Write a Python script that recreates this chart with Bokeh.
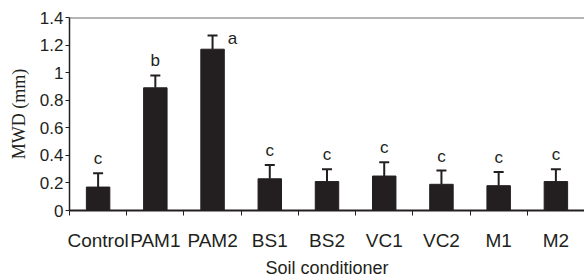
from bokeh.plotting import figure
from bokeh.models import (ColumnDataSource, FixedTicker, Range1d, Whisker, TeeHead,
                          Span, CustomJSTickFormatter)
from bokeh.core.properties import value
from bokeh.embed import file_html
from bokeh.resources import INLINE

categories = ["Control", "PAM1", "PAM2", "BS1", "BS2", "VC1", "VC2", "M1", "M2"]
mwd = [0.17, 0.89, 1.17, 0.23, 0.21, 0.25, 0.19, 0.18, 0.21]
err = [0.10, 0.09, 0.10, 0.10, 0.09, 0.10, 0.10, 0.10, 0.09]
letters = ["c", "b", "a", "c", "c", "c", "c", "c", "c"]
y_ticks = [0, 0.2, 0.4, 0.6, 0.8, 1.0, 1.2, 1.4]

INK = "#231f20"
xc = [i + 0.5 for i in range(len(categories))]
upper = [m + e for m, e in zip(mwd, err)]
src = ColumnDataSource(dict(x=xc, y=mwd, up=upper, lab=letters))

p = figure(width=584, height=280, output_backend="svg", toolbar_location=None,
           x_range=Range1d(0, len(categories)), y_range=Range1d(0, 1.4),
           min_border_left=69, min_border_right=0, min_border_top=17, min_border_bottom=70)
p.outline_line_color = None
p.xgrid.visible = False
p.ygrid.visible = False
p.background_fill_color = "white"
p.border_fill_color = "white"

p.vbar(x="x", top="y", width=0.41, source=src, fill_color=INK, line_color=INK)

w = Whisker(base="x", lower="y", upper="up", source=src, dimension="height",
            line_color=INK, line_width=2, lower_head=None,
            upper_head=TeeHead(size=10, line_color=INK, line_width=2))
p.add_layout(w)

top = Span(location=p.y_range.end, dimension="width", line_color="#6d6d6d", line_width=2)
p.add_layout(top)

# significance letters
above_idx = [i for i in range(len(categories)) if i != 2]
src_above = ColumnDataSource(dict(x=[xc[i] for i in above_idx], y=[upper[i] for i in above_idx],
                                  lab=[letters[i] for i in above_idx]))
p.text(x="x", y="y", text="lab", source=src_above, text_align="center", text_baseline="bottom",
       y_offset=-5, text_font=value("Liberation Sans"), text_font_size="17px", text_color=INK)
src_side = ColumnDataSource(dict(x=[xc[2]], y=[upper[2]], lab=[letters[2]]))
p.text(x="x", y="y", text="lab", source=src_side, text_align="center", text_baseline="middle",
       x_offset=20, y_offset=3, text_font=value("Liberation Sans"), text_font_size="17px",
       text_color=INK)

# x axis
xa = p.xaxis[0]
xa.ticker = FixedTicker(ticks=xc, minor_ticks=list(range(len(categories) + 1)))
xa.major_label_overrides = {x: c for x, c in zip(xc, categories)}
xa.major_tick_line_color = None
xa.major_tick_out = 0
xa.major_tick_in = 0
xa.minor_tick_line_color = INK
xa.minor_tick_line_width = 1
xa.minor_tick_out = 5
xa.minor_tick_in = 0
xa.axis_line_color = INK
xa.axis_line_width = 2
xa.major_label_text_font = "Liberation Sans"
xa.major_label_text_font_size = "19px"
xa.major_label_text_color = INK
xa.major_label_standoff = 14
xa.axis_label = "Soil conditioner"
xa.axis_label_text_font = "Liberation Sans"
xa.axis_label_text_font_size = "18px"
xa.axis_label_text_font_style = "normal"
xa.axis_label_text_color = INK
xa.axis_label_standoff = 4

# y axis
ya = p.yaxis[0]
ya.ticker = FixedTicker(ticks=y_ticks)
ya.formatter = CustomJSTickFormatter(code="return tick.toFixed(1).replace(/\\.0$/, '');")
ya.major_tick_out = 4
ya.major_tick_in = 0
ya.minor_tick_line_color = None
ya.major_tick_line_color = INK
ya.axis_line_color = INK
ya.axis_line_width = 1.5
ya.major_label_text_font = "Liberation Sans"
ya.major_label_text_font_size = "17px"
ya.major_label_text_color = INK
ya.major_label_standoff = 2
ya.axis_label = "MWD (mm)"
ya.axis_label_text_font = "Liberation Serif"
ya.axis_label_text_font_size = "18px"
ya.axis_label_text_font_style = "normal"
ya.axis_label_text_color = INK
ya.axis_label_standoff = 8

open("out.html", "w").write(file_html(p, INLINE))
